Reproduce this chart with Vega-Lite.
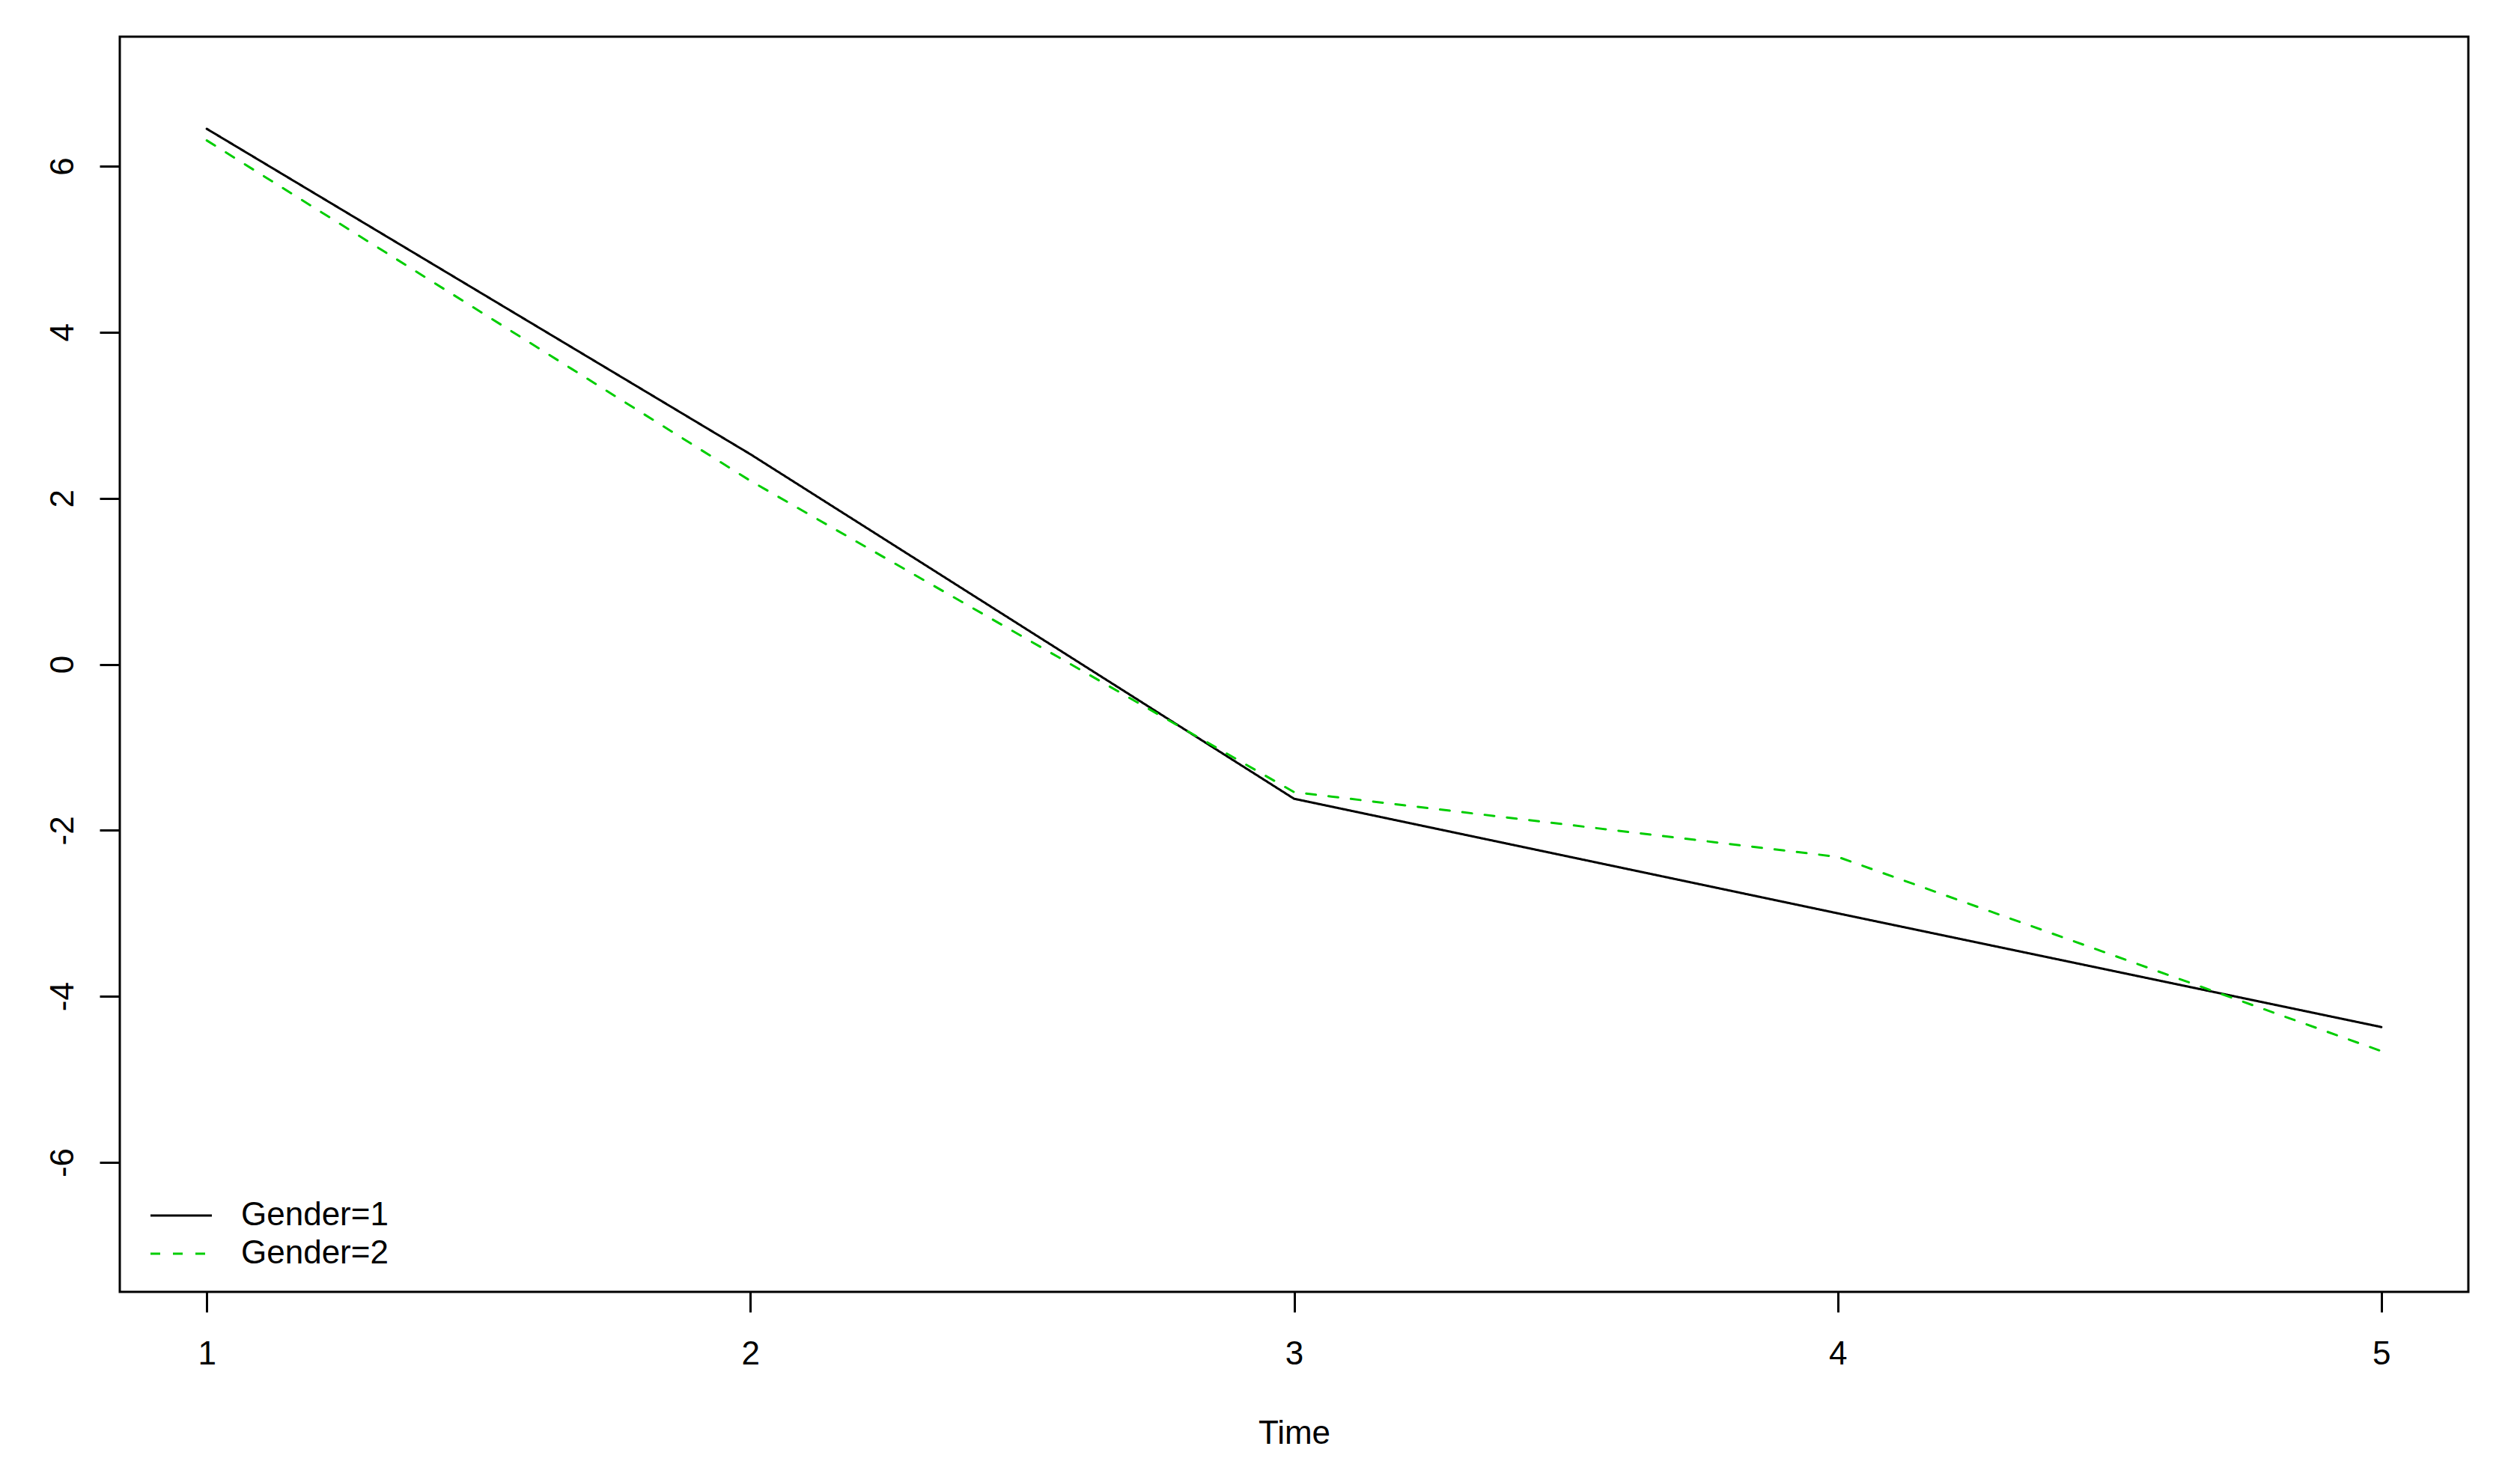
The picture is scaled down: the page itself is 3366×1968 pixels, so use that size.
{
  "$schema": "https://vega.github.io/schema/vega-lite/v6.json",
  "autosize": {"type": "none"},
  "width": 3137,
  "height": 1677,
  "padding": {"left": 160, "top": 49, "right": 69, "bottom": 242},
  "background": "white",
  "config": {
    "font": "Liberation Sans",
    "view": {"stroke": "black", "strokeWidth": 3},
    "axis": {"grid": false, "domain": false, "tickColor": "black", "tickWidth": 3, "tickSize": 27, "labelColor": "black", "labelFontSize": 44, "labelFont": "Liberation Sans", "titleFont": "Liberation Sans", "titleColor": "black", "titleFontWeight": "normal"}
  },
  "data": {
    "values": [
      {"Time": 1, "group": "Gender=1", "value": 6.45},
      {"Time": 2, "group": "Gender=1", "value": 2.53},
      {"Time": 3, "group": "Gender=1", "value": -1.62},
      {"Time": 4, "group": "Gender=1", "value": -3.0},
      {"Time": 5, "group": "Gender=1", "value": -4.37},
      {"Time": 1, "group": "Gender=2", "value": 6.31},
      {"Time": 2, "group": "Gender=2", "value": 2.21},
      {"Time": 3, "group": "Gender=2", "value": -1.54},
      {"Time": 4, "group": "Gender=2", "value": -2.32},
      {"Time": 5, "group": "Gender=2", "value": -4.66}
    ]
  },
  "mark": {"type": "line", "strokeWidth": 3, "strokeCap": "round", "strokeJoin": "round"},
  "encoding": {
    "x": {
      "field": "Time", "type": "quantitative",
      "scale": {"domain": [0.84, 5.16], "nice": false, "zero": false},
      "axis": {"values": [1, 2, 3, 4, 5], "title": "Time", "titleFontSize": 44, "labelPadding": 34, "labelBaseline": "top", "titleY": 202, "titleBaseline": "alphabetic", "labelFlush": false}
    },
    "y": {
      "field": "value", "type": "quantitative",
      "scale": {"domain": [-7.56, 7.56], "nice": false, "zero": false},
      "axis": {"values": [-6, -4, -2, 0, 2, 4, 6], "title": null, "labelAngle": -90, "labelAlign": "center", "labelBaseline": "alphabetic", "labelPadding": 36, "labelExpr": "replace(datum.label, '\u2212', '-')"}
    },
    "color": {
      "field": "group", "type": "nominal",
      "scale": {"domain": ["Gender=1", "Gender=2"], "range": ["black", "#00CD00"]},
      "legend": {"title": null, "orient": "none", "legendX": 60, "legendY": 1553, "symbolType": "M-2,0H2", "symbolSize": 1681, "symbolStrokeWidth": 3, "labelFontSize": 44, "labelOffset": 58, "labelLimit": 1000, "rowPadding": 7, "labelColor": "black", "padding": 0}
    },
    "strokeDash": {
      "field": "group", "type": "nominal",
      "scale": {"domain": ["Gender=1", "Gender=2"], "range": [[1, 0], [13, 17]]},
      "legend": {"title": null, "orient": "none", "legendX": 60, "legendY": 1553, "symbolType": "M-2,0H2", "symbolSize": 1681, "symbolStrokeWidth": 3, "labelFontSize": 44, "labelOffset": 58, "labelLimit": 1000, "rowPadding": 7, "labelColor": "black", "padding": 0}
    }
  }
}
